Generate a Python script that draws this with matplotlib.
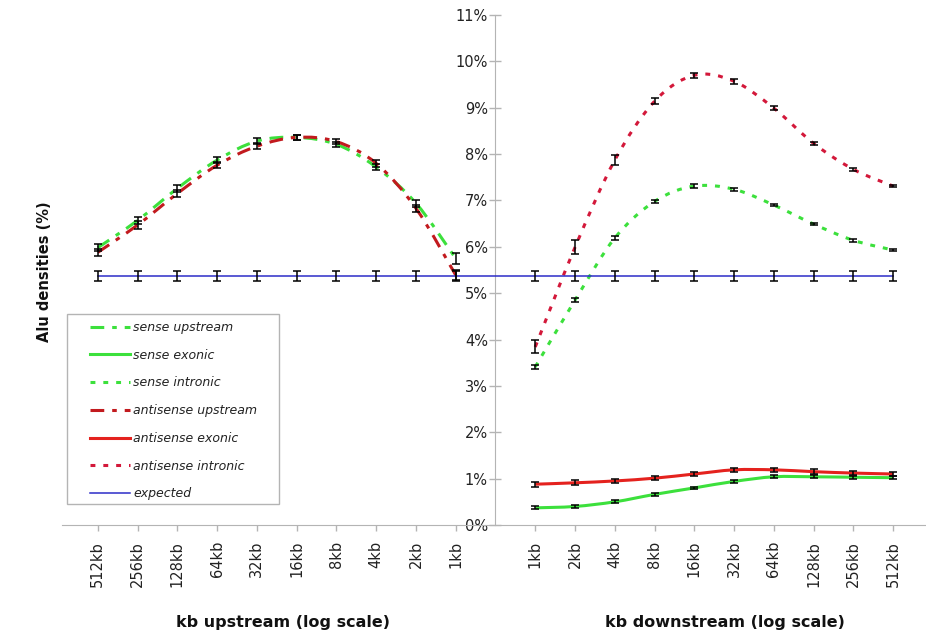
import numpy as np
import matplotlib
matplotlib.use("Agg")
import matplotlib.pyplot as plt
from matplotlib.path import Path
from matplotlib.patches import PathPatch, Rectangle
from matplotlib.lines import Line2D

# distance labels, upstream runs far -> near, downstream near -> far
up_labels = ["512kb", "256kb", "128kb", "64kb", "32kb", "16kb", "8kb", "4kb", "2kb", "1kb"]
down_labels = ["1kb", "2kb", "4kb", "8kb", "16kb", "32kb", "64kb", "128kb", "256kb", "512kb"]

# Alu density (%) upstream of genes
sense_up = [5.98, 6.57, 7.26, 7.87, 8.28, 8.36, 8.21, 7.72, 6.94, 5.75]
sense_up_err = [0.08, 0.08, 0.08, 0.07, 0.06, 0.05, 0.06, 0.07, 0.08, 0.12]
antisense_up = [5.88, 6.47, 7.15, 7.76, 8.17, 8.36, 8.27, 7.80, 6.83, 5.39]
antisense_up_err = [0.08, 0.08, 0.07, 0.07, 0.06, 0.05, 0.06, 0.07, 0.08, 0.10]

# Alu density (%) downstream, exonic and intronic
sense_exonic = [0.37, 0.40, 0.50, 0.66, 0.80, 0.94, 1.04, 1.04, 1.03, 1.02]
sense_exonic_err = [0.03, 0.03, 0.03, 0.03, 0.03, 0.03, 0.03, 0.03, 0.03, 0.03]
antisense_exonic = [0.88, 0.91, 0.95, 1.01, 1.10, 1.19, 1.19, 1.15, 1.12, 1.10]
antisense_exonic_err = [0.05, 0.05, 0.05, 0.05, 0.05, 0.05, 0.05, 0.05, 0.05, 0.05]
sense_intronic = [3.41, 4.85, 6.19, 6.98, 7.31, 7.24, 6.90, 6.49, 6.14, 5.93]
sense_intronic_err = [0.05, 0.05, 0.04, 0.04, 0.04, 0.03, 0.03, 0.03, 0.03, 0.03]
antisense_intronic = [3.84, 5.99, 7.87, 9.14, 9.70, 9.57, 8.99, 8.23, 7.67, 7.31]
antisense_intronic_err = [0.14, 0.15, 0.10, 0.07, 0.05, 0.05, 0.04, 0.04, 0.03, 0.03]

expected = 5.37
expected_err = 0.11

GREEN = "#3ce03c"
RED = "#e4221e"
DARK_RED = "#c21a1e"
DOT_RED = "#d3183a"
BLUE = "#2c2cc8"
GRID = "#b4b4b4"

dash_dot = (0, (4.5, 2.6, 1.5, 2.6))
dotted = (0, (1.6, 2.6))


def smooth_path(xs, ys):
    # Catmull-Rom through the points, as cubic Bezier segments
    pts = np.column_stack([xs, ys]).astype(float)
    n = len(pts)
    verts = [pts[0]]
    codes = [Path.MOVETO]
    for i in range(n - 1):
        p0 = pts[i - 1] if i > 0 else pts[i]
        p1 = pts[i]
        p2 = pts[i + 1]
        p3 = pts[i + 2] if i + 2 < n else pts[i + 1]
        verts += [p1 + (p2 - p0) / 6, p2 - (p3 - p1) / 6, p2]
        codes += [Path.CURVE4] * 3
    return Path(verts, codes)


def draw_series(ax, xs, ys, errs, color, ls, lw=2.2):
    patch = PathPatch(smooth_path(xs, ys), fill=False, edgecolor=color,
                      linewidth=lw, linestyle=ls, capstyle="butt", zorder=3)
    ax.add_patch(patch)
    ax.errorbar(xs, ys, yerr=errs, fmt="none", ecolor="black",
                elinewidth=1.1, capsize=3, capthick=1.1, zorder=5)


fig = plt.figure(figsize=(9.26, 6.36), dpi=100)
ax = fig.add_axes([62 / 926, 1 - 525 / 636, (925 - 62) / 926, 510 / 636])

x_up = np.arange(10)
x_down = np.arange(11, 21)

draw_series(ax, x_up, sense_up, sense_up_err, GREEN, dash_dot)
draw_series(ax, x_up, antisense_up, antisense_up_err, DARK_RED, dash_dot)
draw_series(ax, x_down, sense_exonic, sense_exonic_err, GREEN, "-")
draw_series(ax, x_down, antisense_exonic, antisense_exonic_err, RED, "-")
draw_series(ax, x_down, sense_intronic, sense_intronic_err, GREEN, dotted)
draw_series(ax, x_down, antisense_intronic, antisense_intronic_err, DOT_RED, dotted)

x_all = np.concatenate([x_up, x_down])
exp_vals = np.full(len(x_all), expected)
ax.plot(x_all, exp_vals, color=BLUE, lw=1.1, zorder=4)
ax.errorbar(x_all, exp_vals, yerr=expected_err, fmt="none", ecolor="black",
            elinewidth=1.1, capsize=3, capthick=1.1, zorder=5)

ax.set_xlim(-0.9, 20.8)
ax.set_ylim(0, 11)

ax.spines["top"].set_visible(False)
ax.spines["right"].set_visible(False)
ax.spines["left"].set_position(("data", 10))
ax.spines["left"].set_color(GRID)
ax.spines["bottom"].set_color(GRID)

ax.set_yticks(range(12))
ax.set_yticklabels([f"{v}%" for v in range(12)])
ax.tick_params(axis="y", direction="inout", length=9, width=1, color=GRID,
               labelsize=10.5, labelcolor="#222222", pad=1)

ax.set_xticks(x_all)
ax.set_xticklabels(up_labels + down_labels, rotation=90, va="top")
ax.tick_params(axis="x", direction="out", length=4.5, width=1, color=GRID,
               labelsize=10.5, labelcolor="#222222", pad=7)

fig.text(283 / 926, 1 - 623 / 636, "kb upstream (log scale)", ha="center",
         va="center", fontsize=11.5, fontweight="bold", color="#111111")
fig.text(725 / 926, 1 - 623 / 636, "kb downstream (log scale)", ha="center",
         va="center", fontsize=11.5, fontweight="bold", color="#111111")
fig.text(45 / 926, 1 - 272 / 636, "Alu densities (%)", ha="center", va="center",
         rotation=90, fontsize=10.5, fontweight="bold", color="#111111")

# legend with a hand-placed frame
handles = [
    Line2D([], [], color=GREEN, lw=2.2, ls=dash_dot),
    Line2D([], [], color=GREEN, lw=2.2, ls="-"),
    Line2D([], [], color=GREEN, lw=2.2, ls=dotted),
    Line2D([], [], color=DARK_RED, lw=2.2, ls=dash_dot),
    Line2D([], [], color=RED, lw=2.2, ls="-"),
    Line2D([], [], color=DOT_RED, lw=2.2, ls=dotted),
    Line2D([], [], color=BLUE, lw=1.1, ls="-"),
]
names = ["sense upstream", "sense exonic", "sense intronic", "antisense upstream",
         "antisense exonic", "antisense intronic", "expected"]
leg = fig.legend(handles, names, loc="upper left",
                 bbox_to_anchor=(85 / 926, 1 - 316 / 636), frameon=False,
                 prop={"size": 9, "style": "italic"}, handlelength=3.2,
                 handletextpad=0.25, labelspacing=1.18, borderpad=0.4,
                 borderaxespad=0)
for t in leg.get_texts():
    t.set_color("#222222")
fig.patches.append(Rectangle((67 / 926, 1 - 504 / 636), (279 - 67) / 926,
                             (504 - 314) / 636, transform=fig.transFigure,
                             fill=False, edgecolor=GRID, lw=1))

fig.savefig("out.png", dpi=100)
